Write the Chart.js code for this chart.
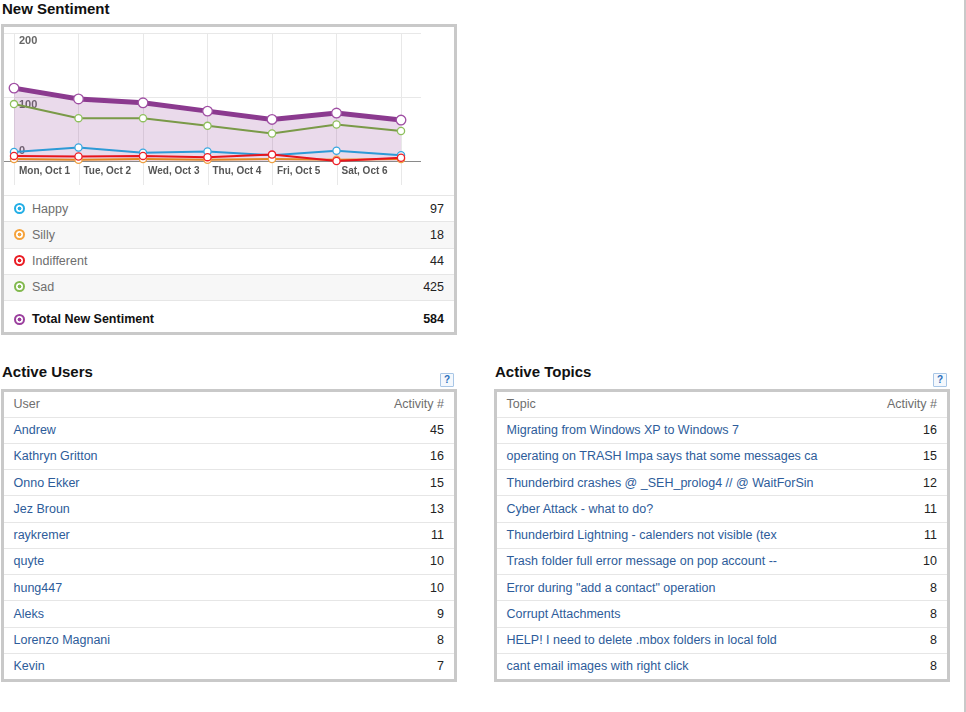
<!DOCTYPE html>
<html>
<head>
<meta charset="utf-8">
<script src="https://cdn.jsdelivr.net/npm/chart.js@4/dist/chart.umd.min.js"></script>
<style>
  body { margin: 0; background: #fff; font-family: "Liberation Sans", Arial, Helvetica, sans-serif; width: 966px; height: 712px; position: relative; overflow: hidden; }
  h2 { position: absolute; margin: 0; font-size: 15px; line-height: 17px; font-weight: bold; color: #111; }
  .box { position: absolute; width: 450px; border: 3px solid #c9c9c9; background: #fff; }
  .row { position: relative; height: 26.25px; border-top: 1px solid #e6e6e6; box-sizing: border-box; font-size: 12.5px; }
  .row span { position: absolute; top: 50%; transform: translateY(-50%); white-space: nowrap; }
  .row .l { left: 9.5px; }
  .row .r { right: 10px; color: #222; }
  .row.alt { background: #f7f7f7; }
  .head { height: 24.5px; }
  .head .l, .head .r { color: #6e6e6e; }
  a { color: #2d5c9a; text-decoration: none; }
  .help { position: absolute; width: 12px; height: 12px; border: 1px solid #a8c6e6; background: #f4f8fd; color: #2a6ebb; font-size: 10px; font-weight: bold; text-align: center; line-height: 12px; border-radius: 1px; }
  .dot { position: absolute; left: 10px; top: 50%; width: 7px; height: 7px; margin-top: -6px; border-radius: 50%; border: 2px solid; }
  .leg .l { left: 28px; color: #6e6e6e; }
  .edge { position: absolute; left: 964px; top: 0; width: 2px; height: 712px; background: #c9c9c9; }
</style>
</head>
<body>
<h2 style="left:2px; top:0px;">New Sentiment</h2>
<div class="box" style="left:1px; top:24px; height:305px;">
  <div style="position:relative; width:450px; height:168px;"><canvas id="chart"></canvas></div>
  <div id="legend"></div>
</div>

<h2 style="left:2px; top:363px;">Active Users</h2>
<div class="help" style="left:440px; top:373px;">?</div>
<div class="box" id="users" style="left:1px; top:389px;"></div>

<h2 style="left:495px; top:363px;">Active Topics</h2>
<div class="help" style="left:933px; top:373px;">?</div>
<div class="box" id="topics" style="left:494px; top:389px;"></div>

<div class="edge"></div>

<script>
// chart data
const dayLabels = ["Mon, Oct 1", "Tue, Oct 2", "Wed, Oct 3", "Thu, Oct 4", "Fri, Oct 5", "Sat, Oct 6"];
const happy = [14, 21, 13, 15, 9, 16, 9];
const silly = [3, 2, 3, 2, 3, 2, 3];
const indifferent = [8, 7, 8, 6, 10, 0, 5];
const sad = [89, 67, 67, 55, 43, 57, 47];
const total = [114, 97, 91, 78, 65, 75, 64];
const yTicks = [0, 100, 200];

// legend table
const sentimentNames = ["Happy", "Silly", "Indifferent", "Sad"];
const sentimentTotals = [97, 18, 44, 425];
const totalLabel = "Total New Sentiment";
const totalValue = 584;

// tables
const userNames = ["Andrew", "Kathryn Gritton", "Onno Ekker", "Jez Broun", "raykremer", "quyte", "hung447", "Aleks", "Lorenzo Magnani", "Kevin"];
const userActivity = [45, 16, 15, 13, 11, 10, 10, 9, 8, 7];
const topicNames = [
  "Migrating from Windows XP to Windows 7",
  "operating on TRASH Impa says that some messages ca",
  "Thunderbird crashes @ _SEH_prolog4 // @ WaitForSin",
  "Cyber Attack - what to do?",
  "Thunderbird Lightning - calenders not visible (tex",
  "Trash folder full error message on pop account --",
  "Error during \"add a contact\" operation",
  "Corrupt Attachments",
  "HELP! I need to delete .mbox folders in local fold",
  "cant email images with right click"
];
const topicActivity = [16, 15, 12, 11, 11, 10, 8, 8, 8, 8];

const lineColors = ["#2d9ad6", "#e4861f", "#e8141c", "#7a9a48", "#8b3a8f"];
const pointColors = ["#3aa8e0", "#f0a040", "#ee2028", "#8fc05e", "#a050a4"];
const legendColors = ["#22aee6", "#f5a23a", "#ea1c24", "#82b94e", "#9b3f9e"];

function toPoints(arr) {
  return arr.map((v, i) => ({ x: i, y: v }));
}

function series(values, idx, order) {
  return {
    data: toPoints(values),
    borderColor: lineColors[idx],
    borderWidth: 2,
    pointBackgroundColor: "#fff",
    pointBorderColor: pointColors[idx],
    pointBorderWidth: 1.3,
    pointRadius: 3.6,
    tension: 0,
    clip: false,
    order: order
  };
}

const totalSet = series(total, 4, 5);
totalSet.borderWidth = 5;
totalSet.pointRadius = 4.8;
totalSet.fill = "origin";
totalSet.backgroundColor = "rgba(150, 72, 156, 0.2)";

// y labels sit under their grid line, the bottom one above it;
// x grid lines run on a bit below the axis
const axisDecor = {
  id: "axisDecor",
  beforeDatasetsDraw(chart) {
    const ctx = chart.ctx;
    const area = chart.chartArea;
    const xs = chart.scales.x;
    ctx.save();
    ctx.strokeStyle = "#e8e8e8";
    ctx.lineWidth = 1;
    xs.ticks.forEach(t => {
      const px = Math.round(xs.getPixelForValue(t.value)) + 0.5;
      ctx.beginPath();
      ctx.moveTo(px, area.bottom + 1);
      ctx.lineTo(px, area.bottom + 24);
      ctx.stroke();
    });
    const s = chart.scales.y;
    ctx.font = "bold 11px 'Liberation Sans', Arial";
    ctx.fillStyle = "#666";
    ctx.textBaseline = "middle";
    ctx.textAlign = "left";
    s.ticks.forEach(t => {
      const py = s.getPixelForValue(t.value);
      ctx.fillText(String(t.value), area.left + 5, t.value === s.min ? py - 10 : py + 8);
    });
    ctx.restore();
  }
};

new Chart(document.getElementById("chart").getContext("2d"), {
  type: "line",
  data: {
    datasets: [
      series(happy, 0, 3),
      series(silly, 1, 2),
      series(indifferent, 2, 1),
      series(sad, 3, 4),
      totalSet
    ]
  },
  options: {
    responsive: true,
    maintainAspectRatio: false,
    animation: false,
    layout: { padding: { left: 0, right: 33, top: 5, bottom: 14 } },
    plugins: { legend: { display: false }, tooltip: { enabled: false } },
    scales: {
      x: {
        type: "linear",
        min: 0,
        max: 6.31,
        grid: { color: "#e8e8e8", drawTicks: false },
        border: { display: false },
        ticks: {
          stepSize: 1,
          includeBounds: false,
          autoSkip: false,
          maxRotation: 0,
          align: "start",
          labelOffset: 5,
          padding: 4,
          color: "#555",
          font: { family: "'Liberation Sans', Arial", size: 10, weight: "bold" },
          callback: v => dayLabels[v] || ""
        }
      },
      y: {
        min: yTicks[0],
        max: yTicks[yTicks.length - 1],
        afterBuildTicks: axis => { axis.ticks = yTicks.map(v => ({ value: v })); },
        grid: {
          tickLength: 10,
          color: ctx => (ctx.tick && ctx.tick.value === 0 ? "#8a8a8a" : "#e8e8e8")
        },
        border: { display: false },
        ticks: { display: false }
      }
    }
  },
  plugins: [axisDecor]
});

// legend rows
const legend = document.getElementById("legend");
function dotHtml(color, extra) {
  return `<i class="dot" style="border-color:${color};background:radial-gradient(circle, ${color} 0 1.7px, #fff 2.2px);${extra || ""}"></i>`;
}
sentimentNames.forEach((name, i) => {
  const row = document.createElement("div");
  row.className = "row leg" + (i % 2 ? " alt" : "");
  row.innerHTML = dotHtml(legendColors[i]) +
    `<span class="l">${name}</span><span class="r">${sentimentTotals[i]}</span>`;
  legend.appendChild(row);
});
const totRow = document.createElement("div");
totRow.className = "row leg";
totRow.style.height = "32px";
totRow.innerHTML = dotHtml(legendColors[4], "margin-top:-3px") +
  `<span class="l" style="color:#111;font-weight:bold;margin-top:2px">${totalLabel}</span><span class="r" style="font-weight:bold;color:#111;margin-top:2px">${totalValue}</span>`;
legend.appendChild(totRow);

function fillTable(el, head, names, values) {
  let html = `<div class="row head" style="border-top:none"><span class="l">${head}</span><span class="r">Activity #</span></div>`;
  names.forEach((n, i) => {
    html += `<div class="row"><span class="l"><a href="#">${n}</a></span><span class="r">${values[i]}</span></div>`;
  });
  el.innerHTML = html;
}
fillTable(document.getElementById("users"), "User", userNames, userActivity);
fillTable(document.getElementById("topics"), "Topic", topicNames, topicActivity);
</script>
</body>
</html>
